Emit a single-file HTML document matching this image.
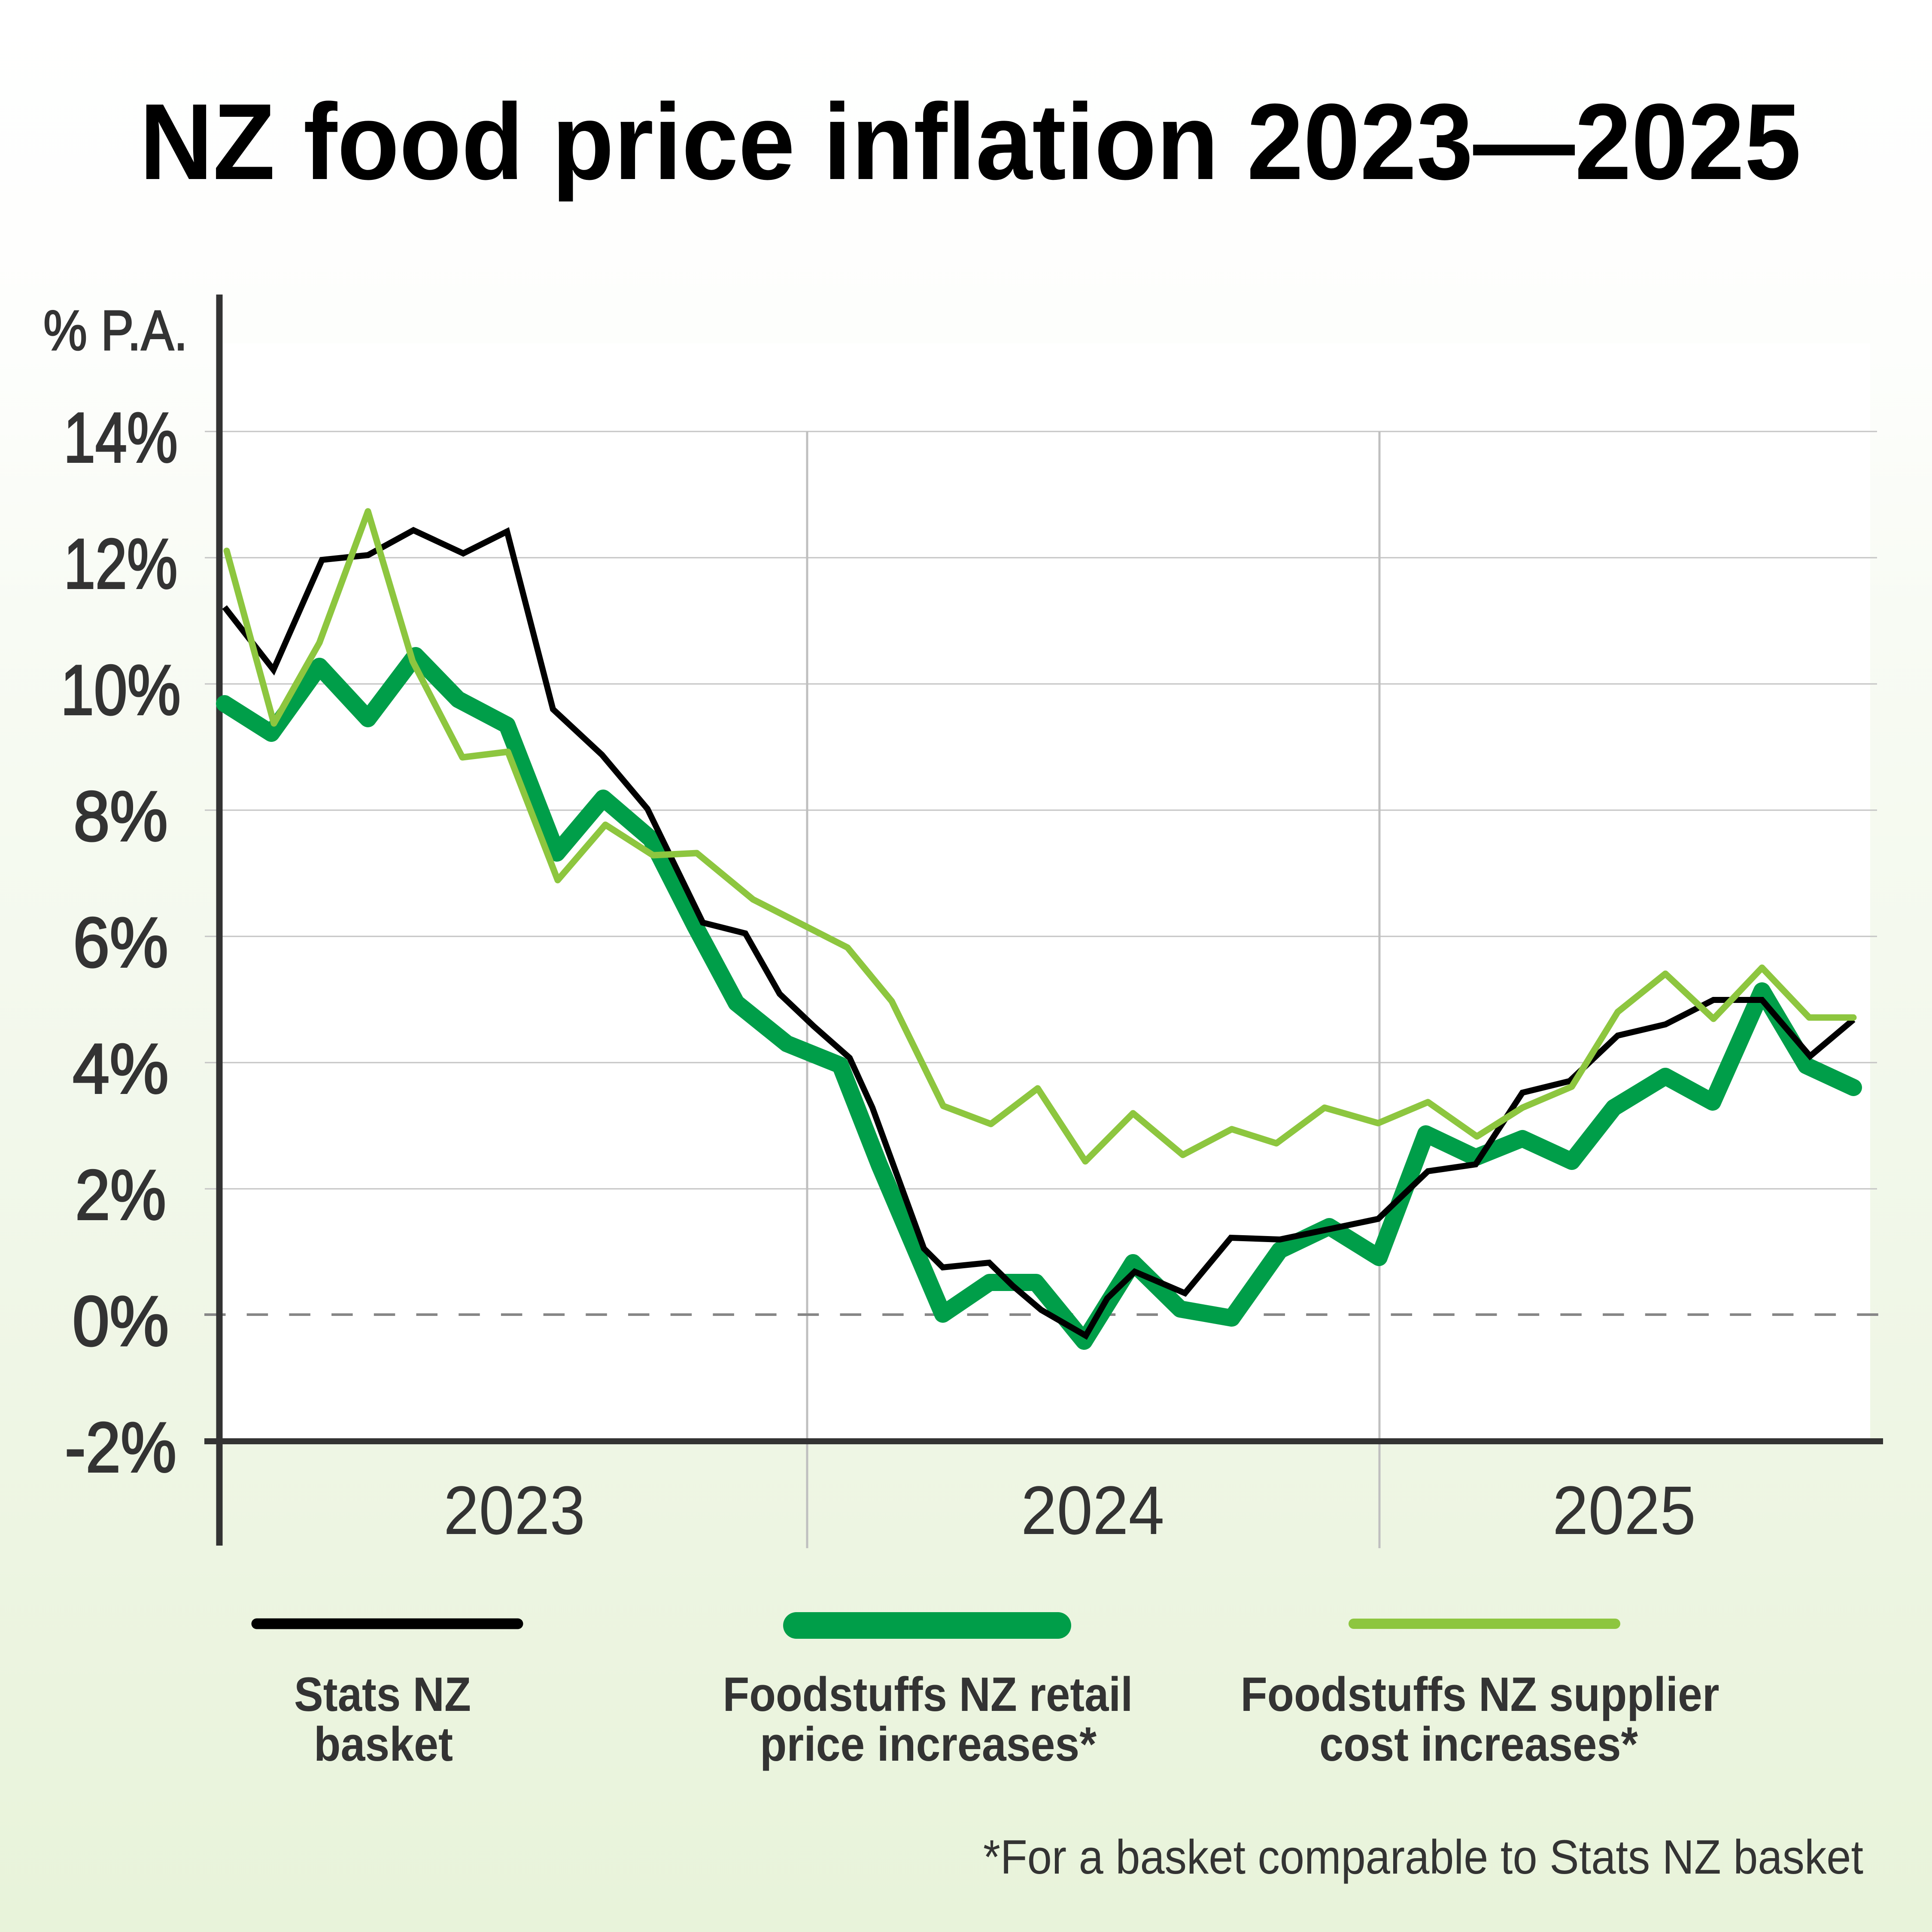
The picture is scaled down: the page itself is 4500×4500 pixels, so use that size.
<!DOCTYPE html>
<html>
<head>
<meta charset="utf-8">
<style>
html,body{margin:0;padding:0;background:#fff;}
#wrap{width:4500px;height:4500px;position:relative;overflow:hidden;}
svg{display:block;}
</style>
</head>
<body>
<div id="wrap">
<svg width="4500" height="4500" viewBox="0 0 4500 4500" xmlns="http://www.w3.org/2000/svg">
  <defs>
    <linearGradient id="bg" x1="0" y1="0" x2="0" y2="1">
      <stop offset="0" stop-color="#ffffff"/>
      <stop offset="0.18" stop-color="#fdfefc"/>
      <stop offset="0.32" stop-color="#f8fbf4"/>
      <stop offset="0.58" stop-color="#f2f8eb"/>
      <stop offset="0.8" stop-color="#edf5e2"/>
      <stop offset="1" stop-color="#e8f3da"/>
    </linearGradient>
  </defs>
  <rect x="0" y="0" width="4500" height="4500" fill="url(#bg)"/>
  <!-- plot area -->
  <rect x="511" y="800" width="3845" height="2557" fill="#ffffff"/>

  <!-- Title -->
  <text x="2260" y="417" text-anchor="middle" font-family="'Liberation Sans', sans-serif" font-weight="bold" font-size="252" fill="#000" textLength="3870" lengthAdjust="spacingAndGlyphs">NZ food price inflation 2023—2025</text>

  <!-- horizontal gridlines -->
  <g stroke="#c4c4c4" stroke-width="3">
    <line x1="477" y1="1005" x2="4372" y2="1005"/>
    <line x1="477" y1="1299" x2="4372" y2="1299"/>
    <line x1="477" y1="1593" x2="4372" y2="1593"/>
    <line x1="477" y1="1887" x2="4372" y2="1887"/>
    <line x1="477" y1="2181" x2="4372" y2="2181"/>
    <line x1="477" y1="2475" x2="4372" y2="2475"/>
    <line x1="477" y1="2769" x2="4372" y2="2769"/>
  </g>
  <!-- vertical gridlines -->
  <g stroke="#bfbfbf" stroke-width="5">
    <line x1="1880" y1="1005" x2="1880" y2="3606"/>
    <line x1="3213" y1="1005" x2="3213" y2="3606"/>
  </g>
  <!-- zero dashed -->
  <line x1="476" y1="3062" x2="4380" y2="3062" stroke="#868686" stroke-width="6" stroke-dasharray="49.5 49.2"/>

  <!-- axes -->
  <line x1="511" y1="686" x2="511" y2="3600" stroke="#333333" stroke-width="15"/>
  <line x1="476" y1="3357" x2="4386" y2="3357" stroke="#333333" stroke-width="14"/>

  <!-- Y labels -->
  <g font-family="'Liberation Sans', sans-serif" font-size="165" fill="#333333" stroke="#333333" stroke-width="4" text-anchor="middle">
    <text x="281" y="1076" textLength="266" lengthAdjust="spacingAndGlyphs">14%</text>
    <text x="281" y="1370" textLength="265" lengthAdjust="spacingAndGlyphs">12%</text>
    <text x="281" y="1664" textLength="280" lengthAdjust="spacingAndGlyphs">10%</text>
    <text x="281" y="1958" textLength="220" lengthAdjust="spacingAndGlyphs">8%</text>
    <text x="281" y="2252" textLength="222" lengthAdjust="spacingAndGlyphs">6%</text>
    <text x="281" y="2546" textLength="224" lengthAdjust="spacingAndGlyphs">4%</text>
    <text x="281" y="2840" textLength="212" lengthAdjust="spacingAndGlyphs">2%</text>
    <text x="281" y="3134" textLength="225" lengthAdjust="spacingAndGlyphs">0%</text>
    <text x="281" y="3428" textLength="260" lengthAdjust="spacingAndGlyphs">-2%</text>
  </g>
  <text x="269" y="815" text-anchor="middle" font-family="'Liberation Sans', sans-serif" font-size="132" fill="#333333" stroke="#333333" stroke-width="3" textLength="336" lengthAdjust="spacingAndGlyphs">% P.A.</text>

  <!-- Year labels -->
  <g font-family="'Liberation Sans', sans-serif" font-size="160" fill="#333333" text-anchor="middle">
    <text x="1198" y="3573" textLength="330" lengthAdjust="spacingAndGlyphs">2023</text>
    <text x="2545" y="3573" textLength="334" lengthAdjust="spacingAndGlyphs">2024</text>
    <text x="3783" y="3573" textLength="334" lengthAdjust="spacingAndGlyphs">2025</text>
  </g>

  <!-- Series: retail (dark green) -->
  <polyline fill="none" stroke="#009e49" stroke-width="40" stroke-linejoin="round" stroke-linecap="round"
    points="523,1639 632,1708 744,1552 857,1674 968,1527 1067,1629 1181,1689 1297,1987 1405,1859 1516,1954 1618,2155 1715,2336 1833,2431 1957,2481 2048,2713 2196,3061 2305,2987 2413,2987 2525,3124 2639,2941 2749,3049 2869,3070 2981,2912 3096,2857 3212,2929 3321,2641 3437,2696 3546,2652 3661,2705 3759,2580 3879,2507 3989,2567 4104,2308 4207,2482 4317,2533"/>
  <!-- Series: Stats NZ (black) -->
  <polyline fill="none" stroke="#000000" stroke-width="14" stroke-linejoin="miter" stroke-miterlimit="4"
    points="523,1414 637,1560 750,1304 857,1293 963,1235 1079,1289 1181,1238 1288,1652 1402,1758 1508,1884 1637,2149 1736,2174 1816,2315 1895,2390 1979,2464 2032,2580 2152,2908 2196,2952 2304,2941 2359,2995 2425,3051 2529,3111 2579,3024 2643,2962 2760,3012 2867,2883 2981,2887 3210,2839 3326,2728 3437,2712 3546,2545 3656,2518 3768,2412 3879,2386 3991,2329 4104,2329 4216,2460 4317,2375"/>
  <!-- Series: supplier (light green) -->
  <polyline fill="none" stroke="#8dc63f" stroke-width="15" stroke-linejoin="round" stroke-linecap="round"
    points="528,1283 638,1685 744,1497 857,1191 961,1540 1077,1764 1183,1751 1299,2050 1410,1921 1521,1992 1623,1987 1754,2095 1974,2207 2077,2332 2197,2576 2308,2618 2417,2535 2528,2705 2639,2593 2755,2690 2869,2630 2973,2663 3085,2580 3210,2616 3326,2567 3440,2647 3546,2580 3661,2531 3768,2357 3879,2268 3991,2373 4104,2254 4214,2370 4317,2370"/>

  <!-- Legend lines -->
  <line x1="598" y1="3782" x2="1206" y2="3782" stroke="#000000" stroke-width="25" stroke-linecap="round"/>
  <line x1="1855" y1="3786" x2="2464" y2="3786" stroke="#009e49" stroke-width="62" stroke-linecap="round"/>
  <line x1="3153" y1="3782" x2="3762" y2="3782" stroke="#8dc63f" stroke-width="24" stroke-linecap="round"/>

  <!-- Legend labels -->
  <g font-family="'Liberation Sans', sans-serif" font-weight="bold" font-size="112" fill="#333333" text-anchor="middle">
    <text x="891" y="3985" textLength="412" lengthAdjust="spacingAndGlyphs">Stats NZ</text>
    <text x="893" y="4101" textLength="324" lengthAdjust="spacingAndGlyphs">basket</text>
    <text x="2161" y="3985" textLength="955" lengthAdjust="spacingAndGlyphs">Foodstuffs NZ retail</text>
    <text x="2162" y="4101" textLength="784" lengthAdjust="spacingAndGlyphs">price increases*</text>
    <text x="3447" y="3985" textLength="1115" lengthAdjust="spacingAndGlyphs">Foodstuffs NZ supplier</text>
    <text x="3444" y="4101" textLength="742" lengthAdjust="spacingAndGlyphs">cost increases*</text>
  </g>

  <!-- Footnote -->
  <text x="2290" y="4364" font-family="'Liberation Sans', sans-serif" font-size="112" fill="#333333" textLength="2050" lengthAdjust="spacingAndGlyphs">*For a basket comparable to Stats NZ basket</text>
</svg>
</div>
</body>
</html>
